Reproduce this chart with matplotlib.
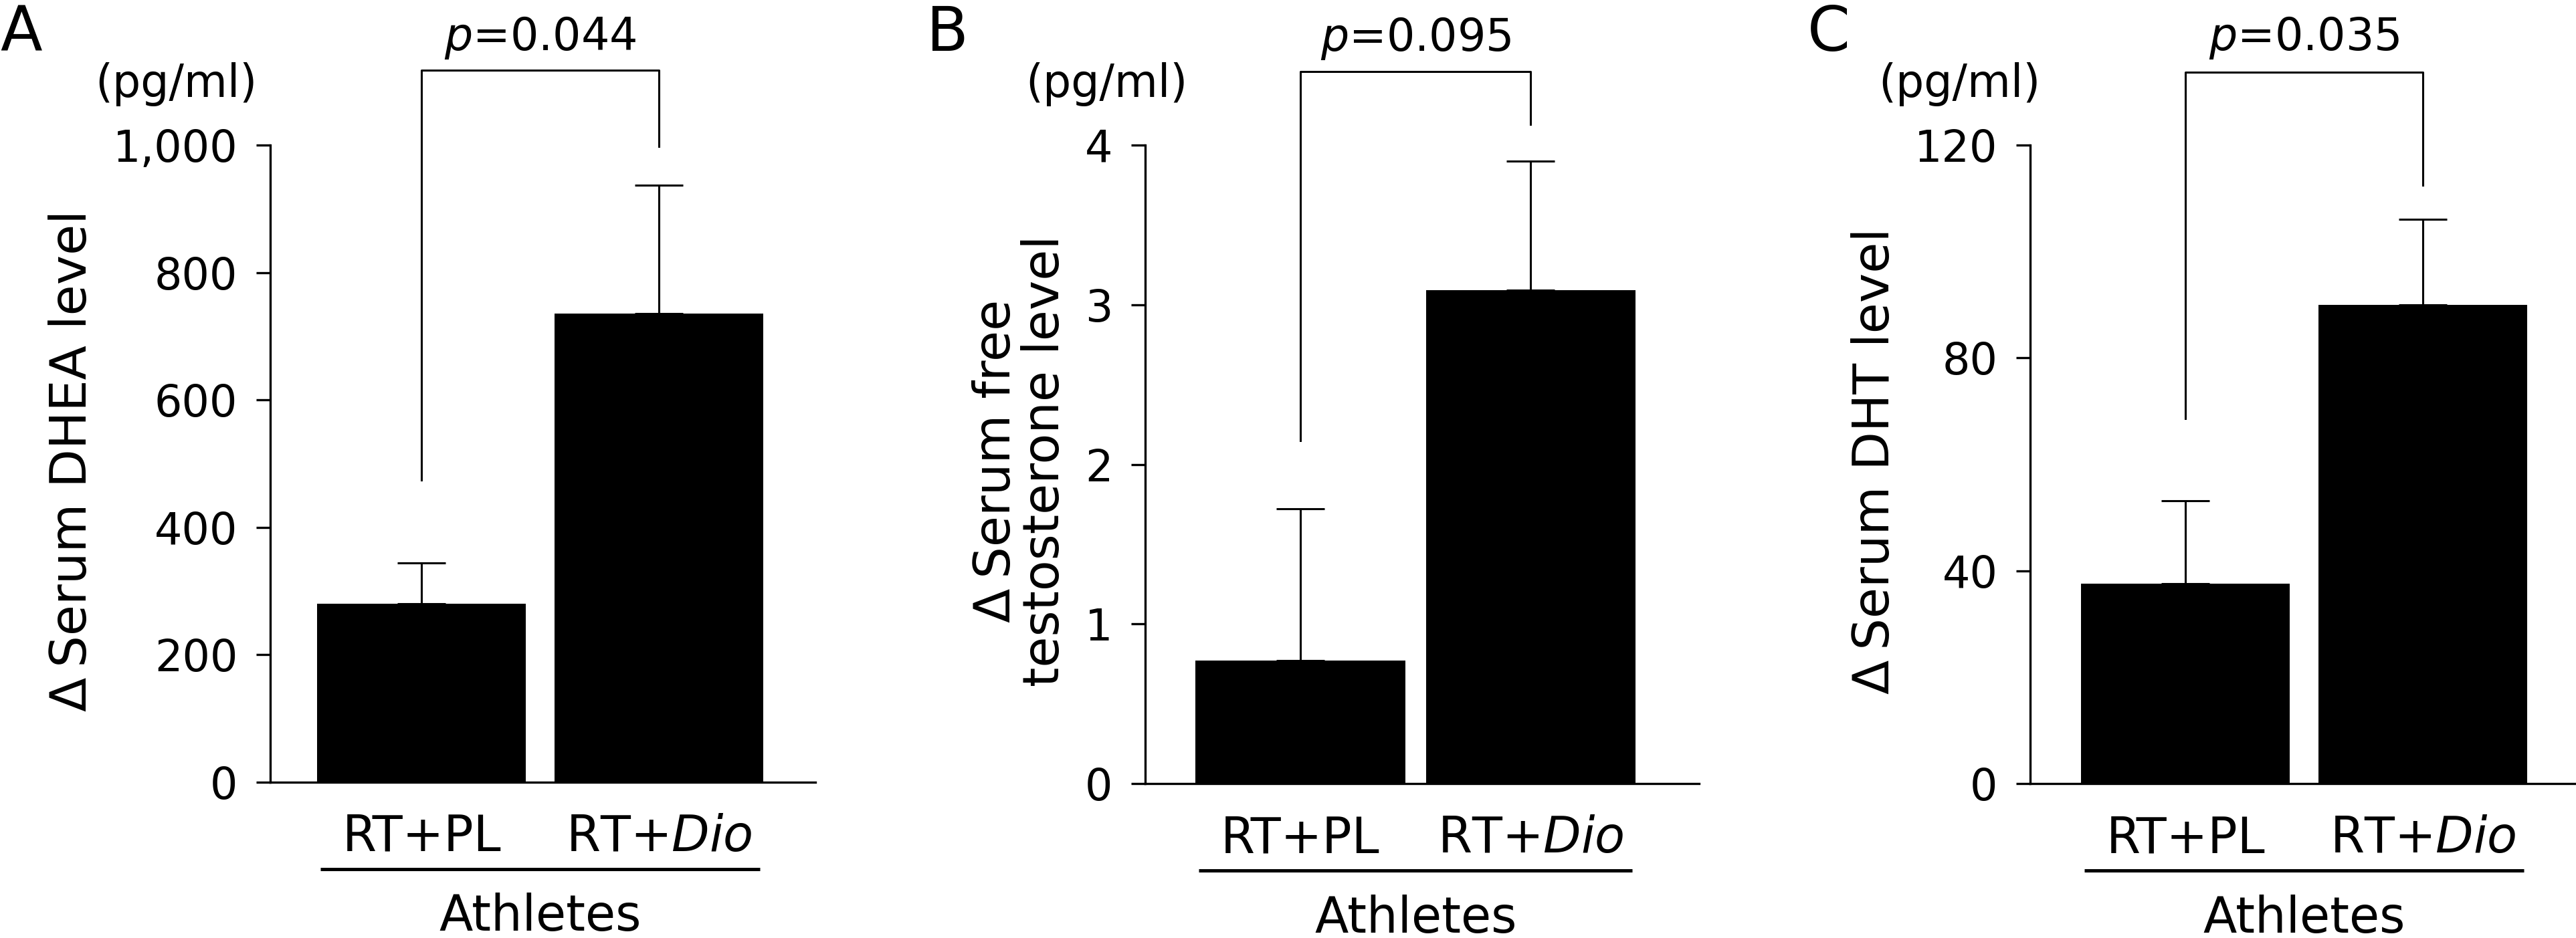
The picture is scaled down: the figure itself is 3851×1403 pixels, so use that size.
import matplotlib
matplotlib.use('Agg')
from matplotlib import pyplot as plt

plt.rcParams['font.family'] = ['DejaVu Sans']
plt.rcParams['mathtext.fontset'] = 'dejavusans'

groups = ['RT+PL', 'RT+$Dio$']

dhea_mean = [280, 736]
dhea_sem = [64, 201]
dhea_ticks = [0, 200, 400, 600, 800, 1000]
dhea_ticklabels = ['0', '200', '400', '600', '800', '1,000']

ft_mean = [0.77, 3.09]
ft_sem = [0.95, 0.81]
ft_ticks = [0, 1, 2, 3, 4]
ft_ticklabels = ['0', '1', '2', '3', '4']

dht_mean = [37.6, 90.0]
dht_sem = [15.5, 16.1]
dht_ticks = [0, 40, 80, 120]
dht_ticklabels = ['0', '40', '80', '120']

p_values = ['0.044', '0.095', '0.035']
# bracket: top, left leg end, right leg end
brackets = [[1118, 474, 998], [4.46, 2.15, 4.13], [133.7, 68.6, 112.5]]

fig = plt.figure(figsize=(38.51, 14.03), dpi=100)

W, H = 3851.0, 1403.0


def panel(letter, px_left, px_right, px_bottom, px_top, xlim, width,
          mean, sem, ticks, ticklabels, ylabel, ylab_x, unit_x, p, br, p_base):
    ax = fig.add_axes([px_left / W, 1 - px_bottom / H,
                       (px_right - px_left) / W, (px_bottom - px_top) / H])
    x = [0, 1]
    ax.bar(x, mean, width=width, color='black', zorder=2)
    ax.errorbar(x, mean, yerr=[[0, 0], sem], fmt='none', ecolor='black',
                elinewidth=2.2, capsize=26, capthick=2.2, zorder=1)
    ax.set_xlim(*xlim)
    ax.set_ylim(ticks[0], ticks[-1])
    ax.set_yticks(ticks)
    ax.set_yticklabels(ticklabels)
    ax.set_xticks([])
    for s in ['top', 'right']:
        ax.spines[s].set_visible(False)
    for s in ['left', 'bottom']:
        ax.spines[s].set_linewidth(2.4)
    ax.tick_params(axis='y', length=15, width=2.4, pad=20, labelsize=47)

    tr = ax.get_xaxis_transform()
    for xi, g in zip(x, groups):
        ax.text(xi, -0.108, g, transform=tr, ha='center', va='baseline', fontsize=53)
    ax.plot([-width / 2 + 0.015, 1 + width / 2 - 0.015], [-0.136, -0.136],
            transform=tr, color='black', lw=3.6, clip_on=False, solid_capstyle='butt')
    ax.text(0.5, -0.233, 'Athletes', transform=tr, ha='center', va='baseline', fontsize=53)

    ax.text(ylab_x, 0.505, ylabel, transform=ax.transAxes, rotation=90,
            ha='center', va='center', fontsize=54, linespacing=1.0)
    ax.text(unit_x, 1.095, '(pg/ml)', transform=ax.transAxes,
            ha='center', va='center', fontsize=48)

    top, lbot, rbot = br
    ax.plot([0, 0, 1, 1], [lbot, top, top, rbot], color='black', lw=2.2, clip_on=False)
    ax.text(0.5, p_base, '$p$=' + p, ha='center', va='baseline', fontsize=48)
    fig.text(letter[1] / W, 1 - 76 / H, letter[0], ha='left', va='baseline', fontsize=66)
    return ax


panel(('A', 0), 404, 1219, 1170, 217, (-0.637, 1.659), 0.88,
      dhea_mean, dhea_sem, dhea_ticks, dhea_ticklabels,
      '\u0394\u2009Serum DHEA level', -0.363, -0.173, p_values[0], brackets[0], 1149)

panel(('B', 1385), 1712, 2540, 1172, 217, (-0.673, 1.73), 0.91,
      ft_mean, ft_sem, ft_ticks, ft_ticklabels,
      '\u0394\u2009Serum free\ntestosterone level', -0.225, -0.07, p_values[1], brackets[1], 4.59)

panel(('C', 2702), 3035, 3851, 1172, 217, (-0.654, 1.645), 0.88,
      dht_mean, dht_sem, dht_ticks, dht_ticklabels,
      '\u0394\u2009Serum DHT level', -0.284, -0.129, p_values[2], brackets[2], 137.8)

fig.savefig('out.png', dpi=100)
